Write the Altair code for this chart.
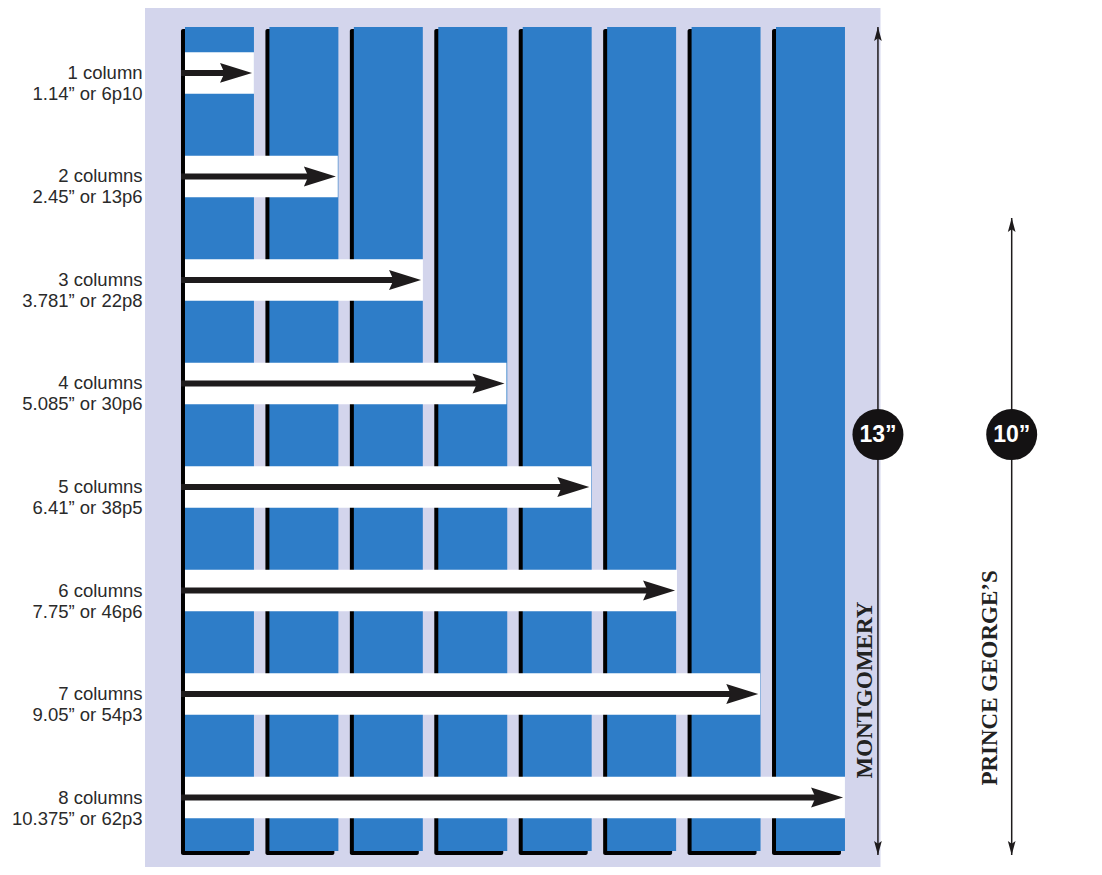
import altair as alt
import pandas as pd

# ---- data ----
columns = [1, 2, 3, 4, 5, 6, 7, 8]
widths_in = [1.14, 2.45, 3.781, 5.085, 6.41, 7.75, 9.05, 10.375]
width_text = ["1.14", "2.45", "3.781", "5.085", "6.41", "7.75", "9.05", "10.375"]
picas = ["6p10", "13p6", "22p8", "30p6", "38p5", "46p6", "54p3", "62p3"]
counties = ["MONTGOMERY", "PRINCE GEORGE\u2019S"]
page_heights = [13, 10]
page_labels = ["13\u201d", "10\u201d"]

# ---- layout (inches, style constants) ----
W, H = 1086, 859
X_DOM = [-2.703, 14.266]
Y_DOM = [-0.188, 13.297]
SHADOW = 0.0625
BAR_H = 0.65
HEAD_LEN = 0.28
ROW_SHIFT = 0.09
LABEL_X = -0.6
DIM_X = [10.89, 12.98]
COUNTY_X = [10.69, 12.64]
COUNTY_Y = [2.59, 2.78]
BADGE_Y = 6.6
PANEL = dict(x=-0.5625, x2=10.93, y=-0.5, y2=13.33)

BLUE = "#2e7dc8"
INK = "#1e1b1c"
LAVENDER = "#d3d5ec"

col_w = widths_in[0]
n_cols = len(columns)
gutter = (widths_in[-1] - n_cols * col_w) / (n_cols - 1)
full_h = page_heights[0]
pitch = full_h / n_cols

col_df = pd.DataFrame({"n": columns})
col_df["x0"] = (col_df["n"] - 1) * (col_w + gutter)
col_df["sx"] = col_df["x0"]
col_df["sx2"] = col_df["x0"] + col_w - SHADOW
col_df["sy"] = 0.0
col_df["sy2"] = full_h - SHADOW / 2
col_df["bx"] = col_df["x0"] + SHADOW
col_df["bx2"] = col_df["x0"] + col_w
col_df["by"] = SHADOW
col_df["by2"] = float(full_h)

row_df = pd.DataFrame({"n": columns, "w": widths_in, "wt": width_text, "p": picas})
row_df["yc"] = full_h - (row_df["n"] - 0.5) * pitch + ROW_SHIFT
row_df["wy"] = row_df["yc"] - BAR_H / 2
row_df["wy2"] = row_df["yc"] + BAR_H / 2
row_df["wx"] = SHADOW
row_df["ax"] = 0.0
row_df["ax2"] = row_df["w"] - HEAD_LEN
row_df["hx"] = row_df["w"] - HEAD_LEN
row_df["lx"] = LABEL_X
row_df["label"] = [
    f"{n} column{'s' if n > 1 else ''}\n{wt}\u201d or {p}"
    for n, wt, p in zip(row_df["n"], row_df["wt"], row_df["p"])
]

dim_df = pd.DataFrame({
    "county": counties, "h": page_heights, "badge": page_labels,
    "x": DIM_X, "cx": COUNTY_X, "cy": COUNTY_Y,
})
dim_df["y0"] = 0.0
dim_df["top_head"] = dim_df["h"] - 0.11
dim_df["bot_head"] = 0.11
dim_df["by"] = BADGE_Y

panel_df = pd.DataFrame({k: [v] for k, v in PANEL.items()})


def X(f):
    return alt.X(f"{f}:Q", scale=alt.Scale(domain=X_DOM, nice=False, zero=False), axis=None)


def Y(f):
    return alt.Y(f"{f}:Q", scale=alt.Scale(domain=Y_DOM, nice=False, zero=False), axis=None)


panel = alt.Chart(panel_df).mark_rect(color=LAVENDER).encode(
    x=X("x"), x2="x2", y=Y("y"), y2="y2")

shadow = alt.Chart(col_df).mark_rect(color="#000000", cornerRadius=2).encode(
    x=X("sx"), x2="sx2", y=Y("sy"), y2="sy2")

blue = alt.Chart(col_df).mark_rect(color=BLUE).encode(
    x=X("bx"), x2="bx2", y=Y("by"), y2="by2")

white = alt.Chart(row_df).mark_rect(color="#ffffff").encode(
    x=X("wx"), x2="w", y=Y("wy"), y2="wy2")

shaft = alt.Chart(row_df).mark_rule(color=INK, strokeWidth=6).encode(
    x=X("ax"), x2="ax2", y=Y("yc"))

head = alt.Chart(row_df).mark_point(
    shape="M-1,-0.62L1,0L-1,0.62L-0.72,0Z", size=1024, filled=True,
    color=INK, opacity=1, strokeWidth=0).encode(x=X("hx"), y=Y("yc"))

labels = alt.Chart(row_df).mark_text(
    align="right", baseline="middle", lineBreak="\n", lineHeight=21,
    font="Liberation Sans", fontSize=18.5, color="#2a2a2a").encode(
    x=X("lx"), y=Y("yc"), text="label:N")

dim_rule = alt.Chart(dim_df).mark_rule(color=INK, strokeWidth=1.5).encode(
    x=X("x"), y=Y("y0"), y2="h")

dim_top = alt.Chart(dim_df).mark_point(
    shape="M0,-1L0.55,1L0,0.6L-0.55,1Z", size=196, filled=True,
    color=INK, opacity=1, strokeWidth=0).encode(x=X("x"), y=Y("top_head"))

dim_bot = alt.Chart(dim_df).mark_point(
    shape="M0,1L0.55,-1L0,-0.6L-0.55,-1Z", size=196, filled=True,
    color=INK, opacity=1, strokeWidth=0).encode(x=X("x"), y=Y("bot_head"))

badge = alt.Chart(dim_df).mark_point(
    shape="circle", size=2600, filled=True, color="#141213", opacity=1,
    strokeWidth=0).encode(x=X("x"), y=Y("by"))

badge_text = alt.Chart(dim_df).mark_text(
    font="Liberation Sans", fontWeight="bold", fontSize=23, color="#ffffff",
    align="center", baseline="middle").encode(x=X("x"), y=Y("by"), text="badge:N")

county = alt.Chart(dim_df).mark_text(
    font="Liberation Serif", fontWeight="bold", fontSize=23, color="#222222",
    angle=270, align="center", baseline="middle").encode(
    x=X("cx"), y=Y("cy"), text="county:N")

chart = alt.layer(
    panel, shadow, blue, white, shaft, head, labels,
    dim_rule, dim_top, dim_bot, badge, badge_text, county,
).properties(
    width=W, height=H, padding=0, autosize="none", background="#ffffff"
).configure_view(stroke=None)

chart.save("out.html", embed_options={"renderer": "svg", "actions": False})
